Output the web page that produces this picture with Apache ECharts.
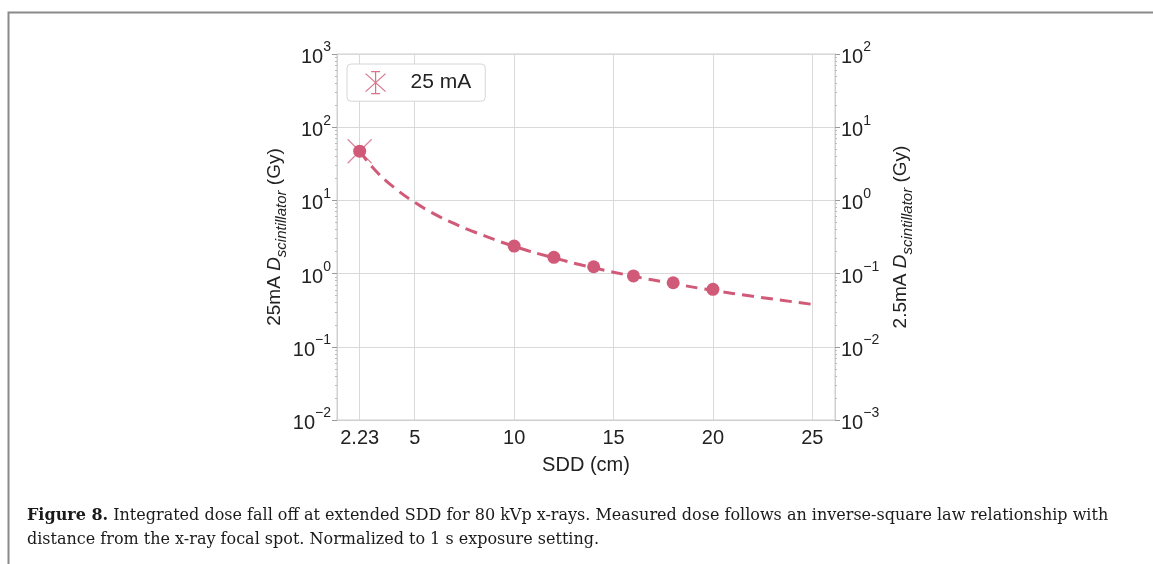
<!DOCTYPE html>
<html>
<head>
<meta charset="utf-8">
<script src="https://cdn.jsdelivr.net/npm/echarts@6/dist/echarts.min.js"></script>
<style>
  html, body { margin: 0; padding: 0; background: #fff; }
  #main { width: 1153px; height: 564px; }
</style>
</head>
<body>
<div id="main"></div>
<script>
// measured points (25 mA)
var sddMeasured = [2.23, 10, 12, 14, 16, 18, 20];
var doseMeasured = [47, 2.38, 1.67, 1.24, 0.93, 0.75, 0.61];
// inverse-square fit curve
var sddFit = [2.23, 3, 4, 5, 6, 7, 8, 10, 12, 14, 16, 18, 20, 22, 25];
var doseFit = [47, 26, 14.7, 9.4, 6.5, 4.8, 3.7, 2.36, 1.64, 1.2, 0.92, 0.73, 0.59, 0.49, 0.38];
// the "x" marker point
var sddCross = [2.23];
var doseCross = [47];
var xTicks = [2.23, 5, 10, 15, 20, 25];

var red = '#d05a78';
var font = 'Liberation Sans';
var serif = 'DejaVu Serif';

function pairs(xs, ys) {
  return xs.map(function (x, i) { return [x, ys[i]]; });
}

function powLabel(v) {
  var e = Math.round(Math.log10(v));
  var s = e < 0 ? '\u2212' + (-e) : '' + e;
  return '{b|10}{s|' + s + '}';
}

var labelRich = {
  b: { fontSize: 20, fontFamily: font, color: '#222', verticalAlign: 'bottom' },
  s: { fontSize: 14, fontFamily: font, color: '#222', verticalAlign: 'bottom', padding: [0, 0, 13, 0] }
};

var nameRich = {
  n: { fontSize: 19, fontFamily: font, color: '#222', verticalAlign: 'bottom', padding: [0, 0, 5, 0] },
  i: { fontSize: 19, fontFamily: font, fontStyle: 'italic', color: '#222', verticalAlign: 'bottom', padding: [0, 0, 5, 0] },
  sub: { fontSize: 15, fontFamily: font, fontStyle: 'italic', color: '#222', verticalAlign: 'bottom' }
};

function yAxisCfg(min, max, name, pos, gap) {
  return {
    type: 'log',
    logBase: 10,
    min: min,
    max: max,
    position: pos,
    name: name,
    nameLocation: 'middle',
    nameRotate: 90,
    nameGap: gap,
    nameTextStyle: { rich: nameRich },
    axisLine: { show: true, lineStyle: { color: '#cfcfcf', width: 1 } },
    axisTick: { show: true, length: 5, lineStyle: { color: '#999' } },
    minorTick: { show: true, splitNumber: 9, length: 2, lineStyle: { color: '#bbb' } },
    axisLabel: { formatter: powLabel, rich: labelRich, margin: 6 },
    splitLine: { show: pos === 'left', lineStyle: { color: '#d9d9d9', width: 1 } }
  };
}

var chart = echarts.init(document.getElementById('main'));

var option = {
  animation: false,
  backgroundColor: '#fff',
  grid: { left: 337, right: 318, top: 54, bottom: 144, show: true, borderColor: '#cfcfcf', borderWidth: 1 },
  xAxis: {
    type: 'value',
    min: 1.09,
    max: 26.14,
    name: 'SDD (cm)',
    nameLocation: 'middle',
    nameGap: 35,
    nameTextStyle: { fontSize: 20, fontFamily: font, color: '#222' },
    axisLine: { show: true, lineStyle: { color: '#cfcfcf' } },
    axisTick: { show: false, customValues: xTicks },
    axisLabel: {
      customValues: xTicks,
      fontSize: 20, fontFamily: font, color: '#222', margin: 8,
      formatter: function (v) { return '' + v; }
    },
    splitLine: { show: true, lineStyle: { color: '#d9d9d9', width: 1 } }
  },
  yAxis: [
    yAxisCfg(0.01, 1000, '{n|25mA }{i|D}{sub|scintillator}{n| (Gy)}', 'left', 48),
    yAxisCfg(0.001, 100, '{n|2.5mA }{i|D}{sub|scintillator}{n| (Gy)}', 'right', 56)
  ],
  legend: {
    left: 347,
    top: 64,
    padding: [7, 14, 7, 18],
    backgroundColor: '#fff',
    borderColor: '#d6d6d6',
    borderWidth: 1,
    borderRadius: 4,
    itemWidth: 20,
    itemHeight: 22,
    itemGap: 10,
    textStyle: { fontSize: 21, fontFamily: font, color: '#222', padding: [0, 0, 0, 20] },
    data: [{
      name: '25 mA',
      icon: 'path://M0,2L20,20M20,2L0,20M10,0L10,22M5.5,0L14.5,0M5.5,22L14.5,22',
      itemStyle: { color: 'transparent', borderColor: red, borderWidth: 1.2, opacity: 0.85 }
    }]
  },
  series: [
    {
      name: 'fit',
      type: 'line',
      data: pairs(sddFit, doseFit),
      smooth: true,
      showSymbol: false,
      symbol: 'none',
      lineStyle: { color: red, width: 3, type: [12, 7] },
      z: 2
    },
    {
      name: 'measured',
      type: 'scatter',
      data: pairs(sddMeasured, doseMeasured),
      symbol: 'circle',
      symbolSize: 13,
      itemStyle: { color: red, opacity: 1 },
      z: 3
    },
    {
      name: '25 mA',
      type: 'scatter',
      data: pairs(sddCross, doseCross),
      symbol: 'path://M0,0L10,10M10,0L0,10',
      symbolSize: 24,
      itemStyle: { color: 'transparent', borderColor: red, borderWidth: 1.2, opacity: 0.75 },
      z: 4
    }
  ],
  graphic: [
    {
      type: 'polyline',
      shape: { points: [[8.5, 564], [8.5, 12.5], [1153, 12.5]] },
      style: { stroke: '#8a8a8a', lineWidth: 2, fill: null }
    },
    {
      type: 'text',
      left: 27,
      top: 508,
      style: {
        text: '{b|Figure 8.} Integrated dose fall off at extended SDD for 80 kVp x-rays. Measured dose follows an inverse-square law relationship with',
        font: '16px "' + serif + '"',
        fill: '#1a1a1a',
        rich: { b: { fontWeight: 'bold', fontSize: 16, fontFamily: serif, fill: '#1a1a1a' } }
      }
    },
    {
      type: 'text',
      left: 27,
      top: 532,
      style: {
        text: 'distance from the x-ray focal spot. Normalized to 1 s exposure setting.',
        font: '16px "' + serif + '"',
        fill: '#1a1a1a'
      }
    }
  ]
};

chart.setOption(option);
</script>
</body>
</html>
